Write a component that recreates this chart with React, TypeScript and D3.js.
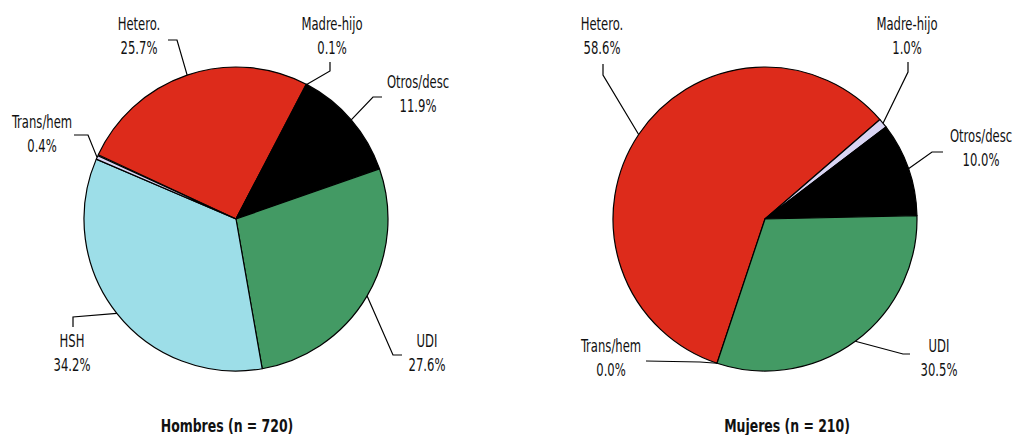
import React from "react";
import * as d3 from "d3";

const categories = ["Hetero.", "Madre-hijo", "Otros/desc", "UDI", "HSH", "Trans/hem"];
const hombresValues = [25.7, 0.1, 11.9, 27.6, 34.2, 0.4];
const mujeresValues = [58.6, 1.0, 10.0, 30.5, 0.0, 0.0];
const titles = ["Hombres (n = 720)", "Mujeres (n = 210)"];

const colors: Record<string, string> = {
  "Hetero.": "#DD2B1B",
  "Madre-hijo": "#D9D5F3",
  "Otros/desc": "#000000",
  UDI: "#439A64",
  HSH: "#9DDEE8",
  "Trans/hem": "#D9D5F3",
};

type LabelLayout = { cat: string; tx: number; ty: number; elbow: [number, number][] };

const FONT = "'DejaVu Sans Condensed', sans-serif";

const pies = [
  {
    values: hombresValues,
    cx: 236,
    cy: 219,
    r: 152,
    start: -65,
    titleX: 227,
    labels: [
      { cat: "Hetero.", tx: 139, ty: 30, elbow: [[177, 40], [168, 40]] },
      { cat: "Madre-hijo", tx: 332, ty: 30, elbow: [[330, 71], [330, 62]] },
      { cat: "Otros/desc", tx: 418, ty: 88, elbow: [[373, 97], [382, 97]] },
      { cat: "UDI", tx: 427, ty: 347, elbow: [[393, 355], [402, 355]] },
      { cat: "HSH", tx: 72, ty: 347, elbow: [[73, 317], [73, 327]] },
      { cat: "Trans/hem", tx: 42, ty: 128, elbow: [[88, 135], [74, 135]] },
    ] as LabelLayout[],
  },
  {
    values: mujeresValues,
    cx: 765,
    cy: 219,
    r: 152,
    start: -161.6,
    titleX: 787,
    labels: [
      { cat: "Hetero.", tx: 602, ty: 30, elbow: [[603, 75], [603, 64]] },
      { cat: "Madre-hijo", tx: 907, ty: 30, elbow: [[908, 72], [908, 62]] },
      { cat: "Otros/desc", tx: 981, ty: 142, elbow: [[932, 152], [943, 152]] },
      { cat: "UDI", tx: 939, ty: 352, elbow: [[903, 354], [910, 354]] },
      { cat: "Trans/hem", tx: 611, ty: 352, elbow: [[700, 362], [646, 361]] },
    ] as LabelLayout[],
  },
];

function NText({ x, y, size, sx, bold, children }: { x: number; y: number; size: number; sx: number; bold?: boolean; children: React.ReactNode }) {
  return (
    <text
      transform={`translate(${x},${y}) scale(${sx},1)`}
      textAnchor="middle"
      fontFamily={FONT}
      fontSize={size}
      fontWeight={bold ? "bold" : "normal"}
      fill="#111"
    >
      {children}
    </text>
  );
}

function Pie({ p, idx }: { p: (typeof pies)[number]; idx: number }) {
  const data = categories.map((c, i) => ({ cat: c, value: p.values[i] }));
  const total = d3.sum(data, (d) => d.value);
  const s = (p.start * Math.PI) / 180;
  const pieGen = d3
    .pie<{ cat: string; value: number }>()
    .sort(null)
    .value((d) => d.value)
    .startAngle(s)
    .endAngle(s + (2 * Math.PI * total) / 100);
  const arcs = pieGen(data);
  const arcGen = d3.arc<d3.PieArcDatum<{ cat: string; value: number }>>().innerRadius(0).outerRadius(p.r);
  return (
    <g>
      <g transform={`translate(${p.cx},${p.cy})`}>
        {arcs
          .filter((a) => a.value > 0)
          .map((a) => (
            <path key={a.data.cat} d={arcGen(a) || ""} fill={colors[a.data.cat]} stroke="#000" strokeWidth={1.2} strokeLinejoin="round" />
          ))}
      </g>
      {p.labels.map((l) => {
        const a = arcs.find((x) => x.data.cat === l.cat)!;
        const mid = (a.startAngle + a.endAngle) / 2;
        const sx = p.cx + p.r * Math.sin(mid);
        const sy = p.cy - p.r * Math.cos(mid);
        const pts = [[sx, sy], ...l.elbow].map((q) => q.join(",")).join(" ");
        return (
          <g key={l.cat}>
            <polyline points={pts} fill="none" stroke="#000" strokeWidth={1.2} />
            <NText x={l.tx} y={l.ty} size={17} sx={0.76}>
              {l.cat}
            </NText>
            <NText x={l.tx} y={l.ty + 24} size={17} sx={0.76}>
              {a.data.value.toFixed(1) + "%"}
            </NText>
          </g>
        );
      })}
      <NText x={p.titleX} y={432} size={18} sx={0.77} bold>
        {titles[idx]}
      </NText>
    </g>
  );
}

export default function App() {
  return (
    <svg width={1014} height={435} style={{ position: "absolute", left: 0, top: 0, background: "#fff" }}>
      <rect width={1014} height={435} fill="#fff" />
      {pies.map((p, i) => (
        <Pie key={i} p={p} idx={i} />
      ))}
    </svg>
  );
}
